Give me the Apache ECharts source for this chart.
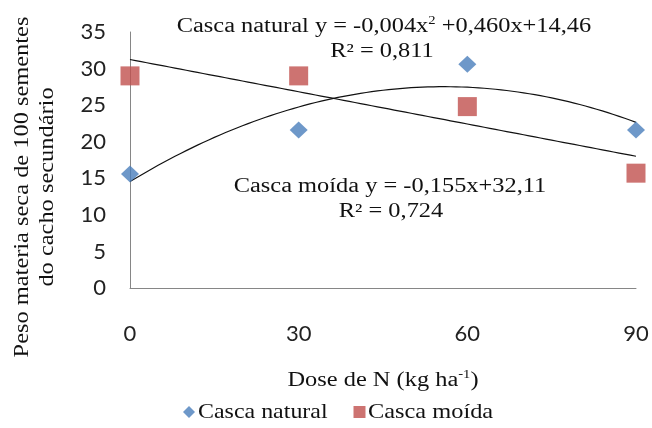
<!DOCTYPE html>
<html><head><meta charset="utf-8">
<script src="https://cdn.jsdelivr.net/npm/echarts@6/dist/echarts.min.js"></script>
<style>html,body{margin:0;padding:0;background:#fff}#c{width:652px;height:428px}</style>
</head><body><div id="c"></div>
<script>
var doses = [0, 30, 60, 90];
var cascaNatural = [15.6, 21.6, 30.6, 21.6];
var cascaMoida = [29.0, 29.0, 24.8, 15.7];
var yTicks = [0, 5, 10, 15, 20, 25, 30, 35];
var xTicks = [0, 30, 60, 90];
var legendNames = ['Casca natural', 'Casca moída'];

function polyfit(xs, ys, deg) {
  var n = deg + 1, A = [], i, j, k;
  for (i = 0; i < n; i++) { A.push([]); for (j = 0; j <= n; j++) A[i].push(0); }
  for (k = 0; k < xs.length; k++) {
    for (i = 0; i < n; i++) {
      for (j = 0; j < n; j++) A[i][j] += Math.pow(xs[k], i + j);
      A[i][n] += ys[k] * Math.pow(xs[k], i);
    }
  }
  for (i = 0; i < n; i++) {
    for (k = i + 1; k < n; k++) {
      var f = A[k][i] / A[i][i];
      for (j = i; j <= n; j++) A[k][j] -= f * A[i][j];
    }
  }
  var c = new Array(n);
  for (i = n - 1; i >= 0; i--) {
    var s = A[i][n];
    for (j = i + 1; j < n; j++) s -= A[i][j] * c[j];
    c[i] = s / A[i][i];
  }
  return c;
}
function trend(coef) {
  var out = [];
  for (var x = doses[0]; x <= doses[doses.length - 1] + 1e-9; x += 1) {
    var y = 0;
    for (var i = 0; i < coef.length; i++) y += coef[i] * Math.pow(x, i);
    out.push([x, y]);
  }
  return out;
}
var natCoef = polyfit(doses, cascaNatural, 2);
var moiCoef = polyfit(doses, cascaMoida, 1);

var serif = 'Liberation Serif';
var SX = 1.22;
function txt(text, x, y, opts) {
  opts = opts || {};
  return {
    type: 'text', x: x, y: y, rotation: opts.rotation || 0, scaleX: opts.sx || SX, scaleY: 1,
    style: { text: text, font: (opts.size || 20) + 'px "' + serif + '"', fill: '#111',
      align: opts.align || 'center', verticalAlign: 'middle', lineHeight: opts.lh || 24,
      rich: { s: { fontFamily: serif, fontSize: 12, verticalAlign: 'top', padding: [0, 0, 9, 0], fill: '#111' } } },
    z: 10
  };
}
var chart = echarts.init(document.getElementById('c'));
chart.setOption({
  animation: false,
  textStyle: { fontFamily: serif },
  grid: { left: 130, right: 16, top: 32, bottom: 140 },
  xAxis: {
    type: 'value', min: xTicks[0], max: xTicks[xTicks.length - 1], interval: 30,
    axisLine: { lineStyle: { color: '#868686', width: 1 } },
    axisTick: { show: false },
    splitLine: { show: false },
    axisLabel: { margin: 35, fontSize: 22, color: '#222', fontFamily: 'Lato' }
  },
  yAxis: {
    type: 'value', min: yTicks[0], max: yTicks[yTicks.length - 1], interval: 5,
    axisLine: { show: true, lineStyle: { color: '#868686', width: 1 } },
    axisTick: { show: false },
    splitLine: { show: false },
    axisLabel: { margin: 24, fontSize: 22, color: '#222', fontFamily: 'Lato' }
  },
  legend: {
    bottom: 10, left: 183, padding: 0, itemWidth: 12, itemHeight: 12, itemGap: 151,
    formatter: ' ',
    textStyle: { fontSize: 10, color: 'rgba(0,0,0,0)' },
    data: [
      { name: legendNames[0], icon: 'diamond' },
      { name: legendNames[1], icon: 'rect' }
    ]
  },
  graphic: [
    txt('Casca natural y = -0,004x{s|2} +0,460x+14,46', 384, 27),
    txt('R² = 0,811', 382, 52),
    txt('Casca moída y = -0,155x+32,11', 390, 187),
    txt('R² = 0,724', 391, 212),
    txt('Dose de N (kg ha{s|-1})', 383, 381),
    txt('Peso materia seca de 100 sementes\ndo cacho secundário', 35, 187, { rotation: Math.PI / 2, size: 20, lh: 25 }),
    txt(legendNames[0], 198, 412, { align: 'left', size: 21, sx: 1.14 }),
    txt(legendNames[1], 368, 412, { align: 'left', size: 21, sx: 1.16 })
  ],
  series: [
    { name: 'natTrend', type: 'line', data: trend(natCoef), showSymbol: false, symbol: 'none',
      lineStyle: { color: '#111', width: 1.2 }, silent: true, z: 1 },
    { name: 'moiTrend', type: 'line', data: trend(moiCoef), showSymbol: false, symbol: 'none',
      lineStyle: { color: '#111', width: 1.2 }, silent: true, z: 1 },
    { name: legendNames[0], type: 'scatter', symbol: 'diamond', symbolSize: [18, 17],
      itemStyle: { color: '#4A7EBB' }, z: 3,
      data: doses.map(function (d, i) { return [d, cascaNatural[i]]; }) },
    { name: legendNames[1], type: 'scatter', symbol: 'rect', symbolSize: [19, 19],
      itemStyle: { color: '#C0504D' }, z: 3,
      data: doses.map(function (d, i) { return [d, cascaMoida[i]]; }) }
  ]
});
</script></body></html>
